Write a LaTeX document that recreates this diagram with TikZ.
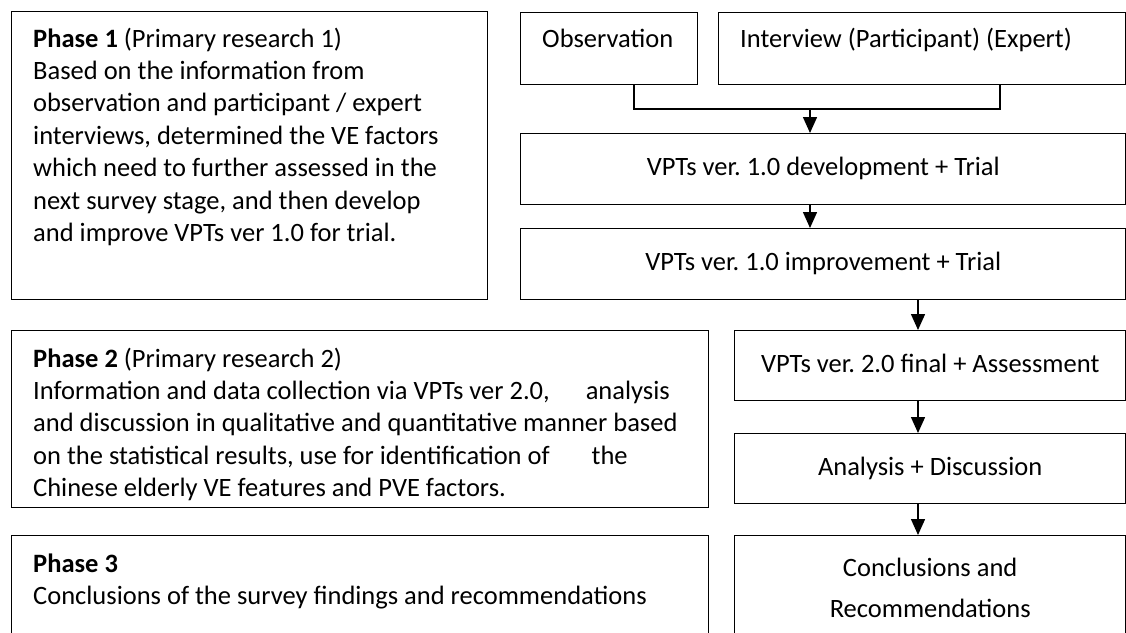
\documentclass[tikz,border=0pt]{standalone}
\usepackage{fontspec}
\setmainfont{Carlito}
\frenchspacing
\usetikzlibrary{arrows.meta,calc}
\newcommand\bodyfont{\fontsize{26.5pt}{32.4pt}\selectfont\frenchspacing}
\begin{document}
\begin{tikzpicture}[x=1pt,y=-1pt,
  box/.style={draw, rectangle, line width=1.4pt, inner sep=0pt, anchor=north west},
  cbox/.style={box, font=\bodyfont, text height=18pt, text depth=5pt},
  txt/.style={font=\bodyfont, inner sep=0pt, anchor=base west, align=left},
  link/.style={line width=1.5pt},
  arr/.style={link, -{Triangle[length=16pt,width=14pt]}}]
\useasboundingbox (0,0) rectangle (1126,632);
\fill[white] (0,0) rectangle (1126,632);
\clip (0,0) rectangle (1126,632);

% left column: phase descriptions
\node[box, minimum width=476pt, minimum height=288pt] (p1) at (11,11) {};
\node[box, minimum width=697pt, minimum height=177pt] (p2) at (11,330) {};
\node[box, minimum width=697pt, minimum height=125pt] (p3) at (11,535) {};

% multi-line texts are anchored at the baseline of their last line
\node[txt] (p1t) at ($(p1.north west)+(22,36+6*32.4)$) {\textbf{Phase 1} (Primary research 1)\\
Based on the information from\\
observation and participant / expert\\
interviews, determined the VE factors\\
which need to further assessed in the\\
next survey stage, and then develop\\
and improve VPTs ver 1.0 for trial.};

\begin{scope}
\clip (p2.north west) rectangle ($(p2.south east)+(0,-8)$);
\node[txt] (p2t) at ($(p2.north west)+(22,37+4*32.4)$) {\textbf{Phase 2} (Primary research 2)\\
Information and data collection via VPTs ver 2.0,\hspace{30pt} analysis\\
and discussion in qualitative and quantitative manner based\\
on the statistical results, use for identification of\hspace{36pt} the\\
Chinese elderly VE features and PVE factors.};
\end{scope}

\node[txt] (p3t) at ($(p3.north west)+(22,37+32.4)$) {\textbf{Phase 3}\\
Conclusions of the survey findings and recommendations};

% right column: process steps
\node[box, minimum width=177pt, minimum height=72pt] (obs) at (520,12) {};
\node[box, minimum width=407pt, minimum height=72pt] (intv) at (718,12) {};
\node[txt] (obst) at ($(obs.north west)+(22,35)$) {Observation};
\node[txt] (intvt) at ($(intv.north west)+(22,35)$) {Interview (Participant) (Expert)};

\node[cbox, minimum width=605pt, minimum height=71pt] (dev) at (520,133) {VPTs ver. 1.0 development + Trial};
\node[cbox, minimum width=605pt, minimum height=71pt] (imp) at (520,228) {VPTs ver. 1.0 improvement + Trial};
\node[cbox, minimum width=391pt, minimum height=70pt] (fin) at (734,330) {VPTs ver. 2.0 final + Assessment};
\node[cbox, minimum width=391pt, minimum height=70pt] (ana) at (734,433) {Analysis + Discussion};
\node[box, minimum width=391pt, minimum height=125pt] (conc) at (734,535) {};
\node[font=\fontsize{26.5pt}{41pt}\selectfont, inner sep=0pt, anchor=base, align=center] (conct)
  at ($(conc.north)+(0,82)$) {Conclusions and\\Recommendations};

% connectors
\coordinate (jl) at (634,109);
\coordinate (jr) at (1000,109);
\coordinate (jm) at (810,109);
\coordinate (k) at (918,0);
\draw[link] (obs.south -| jl) -- (jl) -- (jr) -- (intv.south -| jr);
\draw[arr] (jm) -- (dev.north -| jm);
\draw[arr] (dev.south -| jm) -- (imp.north -| jm);
\draw[arr] (imp.south -| k) -- (fin.north -| k);
\draw[arr] (fin.south -| k) -- (ana.north -| k);
\draw[arr] (ana.south -| k) -- (conc.north -| k);
\end{tikzpicture}
\end{document}
